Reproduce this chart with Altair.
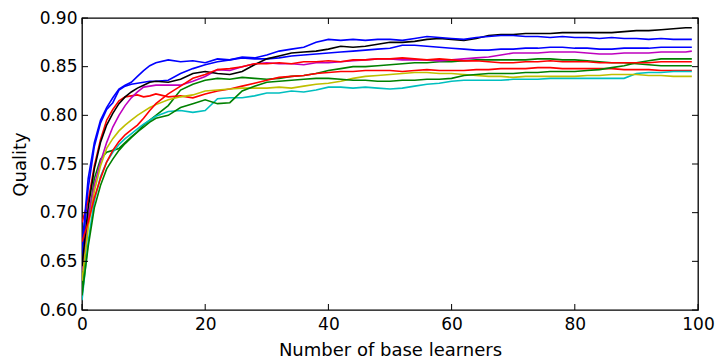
import altair as alt
import pandas as pd

X = list(range(0, 13)) + list(range(14, 99, 2)) + [99]

blue_b = [0.655, 0.725, 0.768, 0.792, 0.806, 0.813, 0.826, 0.830, 0.832, 0.833, 0.834, 0.835, 0.835,
          0.836, 0.843, 0.848, 0.852, 0.855, 0.857, 0.859, 0.858, 0.858,
          0.859, 0.861, 0.862, 0.863, 0.864, 0.865, 0.866, 0.867, 0.868, 0.869,
          0.872, 0.872, 0.871, 0.870, 0.869, 0.868, 0.867, 0.867, 0.868, 0.868,
          0.869, 0.869, 0.870, 0.870, 0.869, 0.869, 0.868, 0.868, 0.869, 0.869, 0.869, 0.870, 0.870, 0.870, 0.870]
green_a = [0.620, 0.690, 0.735, 0.755, 0.762, 0.764, 0.766, 0.772, 0.778, 0.783, 0.790, 0.795, 0.800,
           0.810, 0.826, 0.832, 0.836, 0.838, 0.837, 0.839, 0.838, 0.837,
           0.838, 0.840, 0.841, 0.843, 0.846, 0.848, 0.850, 0.850, 0.851, 0.852,
           0.853, 0.854, 0.854, 0.855, 0.855, 0.856, 0.857, 0.857, 0.857, 0.857,
           0.857, 0.858, 0.858, 0.857, 0.857, 0.856, 0.855, 0.854, 0.854, 0.853, 0.852, 0.851, 0.851, 0.851, 0.851]
red_a = [0.690, 0.712, 0.748, 0.775, 0.795, 0.806, 0.815, 0.819, 0.820, 0.821, 0.819, 0.820, 0.822,
         0.819, 0.820, 0.818, 0.822, 0.825, 0.827, 0.830, 0.833, 0.836,
         0.839, 0.840, 0.841, 0.843, 0.844, 0.845, 0.845, 0.846, 0.846, 0.846,
         0.845, 0.846, 0.847, 0.846, 0.846, 0.846, 0.847, 0.847, 0.848, 0.848,
         0.848, 0.849, 0.849, 0.848, 0.848, 0.848, 0.848, 0.848, 0.847, 0.847, 0.847, 0.846, 0.846, 0.846, 0.846]
cyan = [0.610, 0.670, 0.712, 0.737, 0.752, 0.762, 0.770, 0.776, 0.781, 0.786, 0.791, 0.795, 0.799,
        0.804, 0.805, 0.803, 0.805, 0.817, 0.818, 0.818, 0.820, 0.823,
        0.823, 0.825, 0.824, 0.826, 0.829, 0.829, 0.828, 0.829, 0.828, 0.827,
        0.828, 0.830, 0.832, 0.833, 0.835, 0.836, 0.836, 0.836, 0.836, 0.837,
        0.837, 0.837, 0.838, 0.838, 0.838, 0.838, 0.838, 0.838, 0.838, 0.843, 0.844, 0.844, 0.845, 0.845, 0.845]
magenta = [0.640, 0.695, 0.728, 0.752, 0.772, 0.788, 0.800, 0.810, 0.818, 0.824, 0.829, 0.830, 0.831,
           0.831, 0.831, 0.835, 0.840, 0.847, 0.846, 0.850, 0.853, 0.854,
           0.853, 0.853, 0.852, 0.854, 0.854, 0.855, 0.856, 0.857, 0.858, 0.858,
           0.857, 0.857, 0.857, 0.856, 0.857, 0.858, 0.859, 0.860, 0.862, 0.864,
           0.864, 0.864, 0.865, 0.865, 0.865, 0.864, 0.863, 0.863, 0.864, 0.864, 0.864, 0.865, 0.865, 0.865, 0.866]
yellow = [0.630, 0.685, 0.722, 0.748, 0.766, 0.776, 0.784, 0.790, 0.795, 0.800, 0.804, 0.808, 0.811,
          0.816, 0.819, 0.821, 0.825, 0.826, 0.827, 0.828, 0.828, 0.828,
          0.829, 0.828, 0.830, 0.832, 0.833, 0.835, 0.838, 0.840, 0.841, 0.842,
          0.843, 0.844, 0.844, 0.843, 0.843, 0.842, 0.841, 0.840, 0.840, 0.839,
          0.840, 0.840, 0.840, 0.840, 0.840, 0.841, 0.841, 0.842, 0.842, 0.842, 0.841, 0.841, 0.840, 0.840, 0.840]
black = [0.645, 0.705, 0.745, 0.772, 0.790, 0.802, 0.812, 0.819, 0.824, 0.828, 0.831, 0.834, 0.835,
         0.834, 0.837, 0.843, 0.845, 0.843, 0.842, 0.845, 0.852, 0.858,
         0.861, 0.864, 0.865, 0.866, 0.868, 0.871, 0.870, 0.871, 0.873, 0.875,
         0.875, 0.876, 0.878, 0.879, 0.878, 0.877, 0.879, 0.882, 0.883, 0.883,
         0.884, 0.884, 0.884, 0.885, 0.885, 0.885, 0.885, 0.885, 0.886, 0.887, 0.887, 0.888, 0.889, 0.890, 0.890]
blue_a = [0.665, 0.735, 0.772, 0.795, 0.808, 0.818, 0.827, 0.831, 0.834, 0.840, 0.846, 0.851, 0.854,
          0.857, 0.855, 0.856, 0.854, 0.858, 0.857, 0.860, 0.859, 0.862,
          0.866, 0.868, 0.870, 0.875, 0.878, 0.877, 0.878, 0.877, 0.878, 0.878,
          0.877, 0.879, 0.881, 0.880, 0.879, 0.878, 0.880, 0.881, 0.882, 0.882,
          0.881, 0.881, 0.880, 0.881, 0.880, 0.880, 0.879, 0.880, 0.879, 0.879, 0.878, 0.879, 0.878, 0.878, 0.878]
green_b = [0.615, 0.665, 0.705, 0.728, 0.745, 0.755, 0.764, 0.771, 0.777, 0.783, 0.788, 0.793, 0.797,
           0.800, 0.808, 0.812, 0.816, 0.812, 0.813, 0.825, 0.830, 0.834,
           0.835, 0.836, 0.837, 0.838, 0.838, 0.837, 0.836, 0.836, 0.835, 0.835,
           0.836, 0.836, 0.837, 0.837, 0.838, 0.841, 0.842, 0.843, 0.843, 0.843,
           0.844, 0.844, 0.845, 0.845, 0.845, 0.846, 0.847, 0.849, 0.851, 0.854, 0.856, 0.858, 0.858, 0.858, 0.858]
red_b = [0.670, 0.690, 0.715, 0.735, 0.752, 0.764, 0.773, 0.780, 0.785, 0.790, 0.797, 0.805, 0.812,
         0.822, 0.830, 0.838, 0.842, 0.847, 0.848, 0.850, 0.853, 0.853,
         0.854, 0.853, 0.855, 0.855, 0.856, 0.855, 0.857, 0.857, 0.858, 0.858,
         0.859, 0.858, 0.857, 0.858, 0.857, 0.856, 0.856, 0.855, 0.854, 0.854,
         0.855, 0.855, 0.856, 0.855, 0.855, 0.855, 0.854, 0.854, 0.854, 0.854, 0.854, 0.855, 0.855, 0.855, 0.855]

series = [("s01", blue_b), ("s02", green_a), ("s03", red_a), ("s04", cyan), ("s05", magenta),
          ("s06", yellow), ("s07", black), ("s08", blue_a), ("s09", green_b), ("s10", red_b)]
names = [s[0] for s in series]
colors = ["#0000ff", "#008000", "#ff0000", "#00bfbf", "#bf00bf",
          "#bfbf00", "#000000", "#0000ff", "#008000", "#ff0000"]

x_ticks = [0, 20, 40, 60, 80, 100]
y_ticks = [0.60, 0.65, 0.70, 0.75, 0.80, 0.85, 0.90]

rows = []
for name, vals in series:
    for xv, yv in zip(X, vals):
        rows.append({"x": xv, "q": yv, "s": name})
df = pd.DataFrame(rows)

W, H = 616, 292
FONT = "DejaVu Sans"

xs = alt.Scale(domain=[0, 100], nice=False, zero=False)
ys = alt.Scale(domain=[0.60, 0.90], nice=False, zero=False)
xaxis = alt.Axis(values=x_ticks, title="Number of base learners", format="d", labelFlush=False)
yaxis = alt.Axis(values=y_ticks, title="Quality", format=".2f", labelFlush=False)

lines = alt.Chart(df).mark_line(strokeWidth=1.6, clip=True).encode(
    x=alt.X("x:Q", scale=xs, axis=xaxis),
    y=alt.Y("q:Q", scale=ys, axis=yaxis),
    color=alt.Color("s:N", scale=alt.Scale(domain=names, range=colors), legend=None),
    order=alt.Order("x:Q"),
)

xt = pd.DataFrame({"x": x_ticks})
yt = pd.DataFrame({"q": y_ticks})
TL = 6
xtick_bottom = alt.Chart(xt).mark_rule(color="black", strokeWidth=1).encode(
    x=alt.X("x:Q", scale=xs, axis=xaxis), y=alt.value(H), y2=alt.value(H - TL))
xtick_top = alt.Chart(xt).mark_rule(color="black", strokeWidth=1).encode(
    x=alt.X("x:Q", scale=xs, axis=xaxis), y=alt.value(0), y2=alt.value(TL))
ytick_left = alt.Chart(yt).mark_rule(color="black", strokeWidth=1).encode(
    y=alt.Y("q:Q", scale=ys, axis=yaxis), x=alt.value(0), x2=alt.value(TL))
ytick_right = alt.Chart(yt).mark_rule(color="black", strokeWidth=1).encode(
    y=alt.Y("q:Q", scale=ys, axis=yaxis), x=alt.value(W), x2=alt.value(W - TL))

chart = alt.layer(lines, xtick_bottom, xtick_top, ytick_left, ytick_right).properties(
    width=W, height=H,
    autosize=alt.AutoSizeParams(type="none"),
    padding={"left": 82, "top": 18, "right": 19, "bottom": 50},
    background="white",
).configure_view(
    stroke="black", strokeWidth=1.3
).configure_axis(
    domain=False, ticks=False, tickSize=0, grid=False,
    labelFont=FONT, titleFont=FONT, labelFontSize=17, titleFontSize=18,
    labelColor="black", titleColor="black", titleFontWeight="normal",
).configure_axisX(
    labelPadding=6, titlePadding=9,
).configure_axisY(
    labelPadding=5, titlePadding=10,
)

chart.save("out.html", embed_options={"renderer": "svg", "actions": False})
